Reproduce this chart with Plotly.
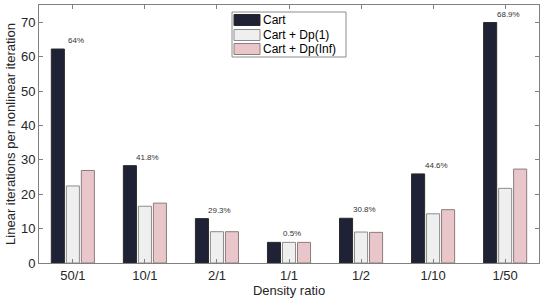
import plotly.graph_objects as go

categories = ["50/1", "10/1", "2/1", "1/1", "1/2", "1/10", "1/50"]
cart = [62.2, 28.3, 12.9, 6.0, 13.0, 25.9, 69.9]
cart_dp1 = [22.4, 16.5, 9.1, 6.0, 9.0, 14.3, 21.7]
cart_dpinf = [26.9, 17.4, 9.1, 6.0, 8.9, 15.5, 27.3]
reductions = ["64%", "41.8%", "29.3%", "0.5%", "30.8%", "44.6%", "68.9%"]
series_names = ["Cart", "Cart + Dp(1)", "Cart + Dp(Inf)"]
fills = ["#1f2235", "#efefef", "#e8c6c9"]
edges = ["#2a2a2a", "#8c8c8c", "#8c7c7e"]

W, H = 540, 300
ML, MR, MT, MB = 39, 1, 5, 37
PW, PH = W - ML - MR, H - MT - MB


def px(x):
    return (x - ML) / PW


def py(y):
    return (H - MB - y) / PH


fig = go.Figure()
for name, vals, f, e in zip(series_names, [cart, cart_dp1, cart_dpinf], fills, edges):
    fig.add_trace(go.Bar(name=name, x=categories, y=vals,
                         marker=dict(color=f, line=dict(color=e, width=1))))

for c, v, t in zip(categories, cart, reductions):
    fig.add_annotation(x=c, y=v, text=t, showarrow=False, xanchor="center",
                       yanchor="bottom", xshift=3, yshift=2,
                       font=dict(size=8, color="#333333", family="Liberation Sans"))

# legend box (custom, to match compact MATLAB-style legend)
fig.add_shape(type="rect", xref="paper", yref="paper",
              x0=px(232), x1=px(346), y0=py(57), y1=py(12),
              line=dict(color="#8c8c8c", width=1), fillcolor="white", layer="above")
row_y = [20, 35, 49]
for name, f, e, ry in zip(series_names, fills, edges, row_y):
    fig.add_shape(type="rect", xref="paper", yref="paper",
                  x0=px(234), x1=px(260), y0=py(ry + 5.5), y1=py(ry - 5.5),
                  line=dict(color=e, width=1), fillcolor=f, layer="above")
    fig.add_annotation(xref="paper", yref="paper", x=px(261), y=py(ry),
                       text=name, showarrow=False, xanchor="left", yanchor="middle",
                       font=dict(size=12, color="#000000", family="Liberation Sans"))

fig.update_layout(
    width=W, height=H,
    margin=dict(l=ML, r=MR, t=MT, b=MB, autoexpand=False),
    plot_bgcolor="white", paper_bgcolor="white",
    barmode="group", bargap=0.375, bargroupgap=0.13,
    font=dict(family="Liberation Sans", size=13, color="#262626"),
    showlegend=False,
)
fig.update_xaxes(range=[-0.47, 6.47], showline=True, linecolor="#808080", linewidth=1,
                 mirror="ticks", ticks="inside", ticklen=4, tickcolor="#808080",
                 title=dict(text="Density ratio", standoff=2, font=dict(size=13)),
                 tickfont=dict(size=13), showgrid=False, automargin=False)
fig.update_yaxes(range=[0, 75], dtick=10, showline=True, linecolor="#808080", linewidth=1,
                 mirror="ticks", ticks="inside", ticklen=4, tickcolor="#808080",
                 title=dict(text="Linear iterations per nonlinear iteration", standoff=2,
                            font=dict(size=13)),
                 tickfont=dict(size=13), showgrid=False, zeroline=False, automargin=False)

fig.write_html("out.html", config={"displayModeBar": False},
               post_script="document.body.style.margin='0';document.body.style.overflow='hidden';")
